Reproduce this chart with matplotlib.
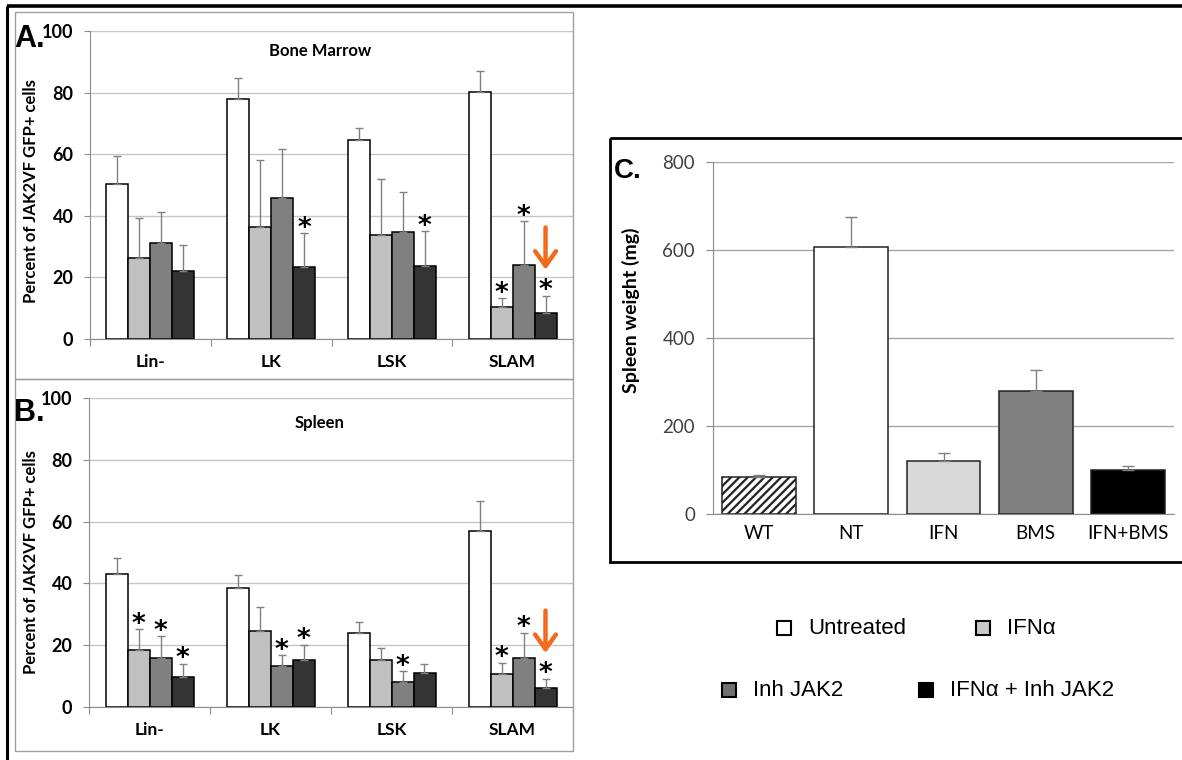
import numpy as np
import matplotlib
matplotlib.use("Agg")
import matplotlib.pyplot as plt
from matplotlib.patches import Rectangle, FancyArrowPatch

# ---- data ----
groups = ["Lin-", "LK", "LSK", "SLAM"]
treatments = ["Untreated", "IFNα", "Inh JAK2", "IFNα + Inh JAK2"]

# A. bone marrow (% JAK2VF GFP+ cells), mean and SD
bm_untreated = [50.2, 77.9, 64.7, 80.3]
bm_untreated_sd = [9.1, 6.7, 3.8, 6.7]
bm_ifn = [26.4, 36.3, 33.9, 10.3]
bm_ifn_sd = [12.9, 21.7, 17.9, 2.9]
bm_inh = [31.2, 45.8, 34.8, 24.1]
bm_inh_sd = [9.9, 15.9, 13.0, 14.1]
bm_combo = [22.0, 23.5, 23.7, 8.3]
bm_combo_sd = [8.5, 10.9, 11.3, 5.8]
bm_stars = [[0, 0, 0, 0], [0, 0, 0, 1], [0, 0, 0, 1], [0, 1, 1, 1]]

# B. spleen
sp_untreated = [43.0, 38.4, 23.9, 57.1]
sp_untreated_sd = [5.1, 4.3, 3.7, 9.5]
sp_ifn = [18.6, 24.6, 15.3, 10.7]
sp_ifn_sd = [6.5, 7.8, 3.7, 3.6]
sp_inh = [16.0, 13.3, 8.2, 16.0]
sp_inh_sd = [6.9, 3.4, 3.3, 8.1]
sp_combo = [9.8, 15.3, 10.9, 6.3]
sp_combo_sd = [4.2, 4.9, 3.1, 2.8]
sp_stars = [[0, 0, 0, 0], [1, 0, 0, 1], [1, 1, 1, 1], [1, 1, 0, 1]]

# C. spleen weight (mg)
weight_groups = ["WT", "NT", "IFN", "BMS", "IFN+BMS"]
weight_mg = [83, 606, 120, 279, 100]
weight_sd = [6, 70, 18, 49, 8]

bar_colors = ["white", "#c0c0c0", "#808080", "#333333"]
weight_colors = ["white", "white", "#d9d9d9", "#808080", "black"]
legend_colors = ["white", "#c8c8c8", "#707070", "black"]

W, H = 1182, 760
CAL = ["Lato", "DejaVu Sans"]
ARIAL = ["Liberation Sans", "DejaVu Sans"]
plt.rcParams["hatch.linewidth"] = 1.6

fig = plt.figure(figsize=(W / 100, H / 100), dpi=100)


def px_axes(x0, y0, x1, y1, **kw):
    return fig.add_axes([x0 / W, 1 - y1 / H, (x1 - x0) / W, (y1 - y0) / H], **kw)


def cell_panel(ax, means, sds, stars):
    n = len(groups)
    w = 1 / 5.5
    centers = np.arange(n) + 0.5
    ax.set_xlim(0, n)
    ax.set_ylim(0, 100)
    ax.set_yticks(np.arange(0, 101, 20))
    ax.yaxis.grid(True, color="#c6c6c6", lw=1)
    ax.set_axisbelow(True)
    for s in ["top", "right"]:
        ax.spines[s].set_visible(False)
    for s in ["left", "bottom"]:
        ax.spines[s].set_color("#8c8c8c")
    ax.tick_params(axis="y", direction="out", length=4, color="#8c8c8c", pad=8)
    for lab in ax.get_yticklabels():
        lab.set_family(CAL)
        lab.set_fontweight("bold")
        lab.set_fontsize(13)
    ax.set_xticks(np.arange(n + 1))
    ax.set_xticklabels([])
    ax.tick_params(axis="x", which="major", direction="out", length=5, color="#8c8c8c")
    ax.set_xticks(centers, minor=True)
    ax.set_xticklabels(groups, minor=True, family=CAL, fontweight="bold", fontsize=12.5)
    ax.tick_params(axis="x", which="minor", length=0, pad=11)

    for j in range(4):
        x = centers + (j - 1.5) * w
        m = np.array(means[j])
        sd = np.array(sds[j])
        ax.bar(x, m, w, color=bar_colors[j], edgecolor="black", lw=1.1, zorder=2)
        ax.errorbar(x, m, yerr=[np.zeros_like(sd), sd], fmt="none", ecolor="#808080",
                    elinewidth=1, capsize=3, capthick=1, zorder=3)
        for k in range(n):
            if stars[j][k]:
                ax.text(x[k], m[k] + sd[k] - 0.8, "*", ha="center", va="baseline",
                        fontsize=19, fontweight="bold", color="black", zorder=4)
    # orange arrow pointing at the SLAM combination bar
    xa = centers[-1] + 1.5 * w
    tip = means[3][-1] + sds[3][-1] + 7.5
    ax.add_patch(FancyArrowPatch((xa, tip + 15.5), (xa, tip),
                                 arrowstyle="->,head_length=0.7,head_width=0.5",
                                 color="#f26b1d", lw=3.2, mutation_scale=15, zorder=5))


axA = px_axes(90, 31, 573, 339)
cell_panel(axA, [bm_untreated, bm_ifn, bm_inh, bm_combo],
           [bm_untreated_sd, bm_ifn_sd, bm_inh_sd, bm_combo_sd], bm_stars)
axB = px_axes(89, 398, 573, 707)
cell_panel(axB, [sp_untreated, sp_ifn, sp_inh, sp_combo],
           [sp_untreated_sd, sp_ifn_sd, sp_inh_sd, sp_combo_sd], sp_stars)

# ---- panel C ----
axC = px_axes(713, 162, 1174, 514)
xc = np.arange(len(weight_groups))
axC.set_xlim(-0.5, len(weight_groups) - 0.5)
axC.set_ylim(0, 800)
axC.set_yticks(np.arange(0, 801, 200))
axC.yaxis.grid(True, color="#a6a6a6", lw=1)
axC.set_axisbelow(True)
for s in ["top", "right"]:
    axC.spines[s].set_visible(False)
for s in ["left", "bottom"]:
    axC.spines[s].set_color("#8c8c8c")
bars = axC.bar(xc, weight_mg, 0.8, color=weight_colors, edgecolor="#222222", lw=1.1, zorder=2)
bars[0].set_hatch("////")
axC.errorbar(xc, weight_mg, yerr=[np.zeros(len(weight_sd)), weight_sd], fmt="none",
             ecolor="#808080", elinewidth=1, capsize=4, capthick=1, zorder=3)
axC.tick_params(axis="y", direction="out", length=5, color="#8c8c8c", pad=8,
                labelcolor="#404040")
for lab in axC.get_yticklabels():
    lab.set_family(CAL)
    lab.set_fontsize(13.5)
axC.set_xticks(xc)
axC.set_xticklabels(weight_groups, family=CAL, fontsize=13.5)
axC.tick_params(axis="x", length=0, pad=8)

# ---- overlay for frames, panel letters, labels and legend ----
ov = fig.add_axes([0, 0, 1, 1], facecolor="none")
ov.set_xlim(0, W)
ov.set_ylim(H, 0)
ov.axis("off")

ov.plot([7, W], [6, 6], color="black", lw=2.6, solid_capstyle="butt")
ov.plot([7, 7], [6, H], color="black", lw=2.2, solid_capstyle="butt")
ov.add_patch(Rectangle((15, 12), 558, 367, fill=False, ec="#a0a0a0", lw=1))
ov.add_patch(Rectangle((15, 379), 558, 372, fill=False, ec="#a0a0a0", lw=1))
ov.add_patch(Rectangle((610, 138), 600, 424, fill=False, ec="black", lw=2))

ov.text(14, 39, "A.", family=ARIAL, fontweight="bold", fontsize=22, va="center")
ov.text(14, 413, "B.", family=ARIAL, fontweight="bold", fontsize=22, va="center")
ov.text(614, 171, "C.", family=ARIAL, fontweight="bold", fontsize=20, va="center")

ylab = "Percent of JAK2VF GFP+ cells"
ov.text(31, 191, ylab, rotation=90, ha="center", va="center", family=CAL,
        fontweight="bold", fontsize=12)
ov.text(31, 562, ylab, rotation=90, ha="center", va="center", family=CAL,
        fontweight="bold", fontsize=12)
ov.text(320, 51, "Bone Marrow", ha="center", va="center", family=CAL,
        fontweight="bold", fontsize=12)
ov.text(320, 423, "Spleen", ha="center", va="center", family=CAL,
        fontweight="bold", fontsize=12)
ov.text(631, 310, "Spleen weight (mg)", rotation=90, ha="center", va="center",
        family=CAL, fontweight="bold", fontsize=14)

# legend, two rows
legend_pos = [(784, 628), (983, 628), (729, 690), (926, 690)]
for (lx, ly), name, col in zip(legend_pos, treatments, legend_colors):
    ov.add_patch(Rectangle((lx - 7, ly - 7), 14, 14, fc=col, ec="black", lw=1.5))
    ov.text(lx + 24, ly, name, family=ARIAL, fontsize=16, va="center")

fig.savefig("out.png", dpi=100)
